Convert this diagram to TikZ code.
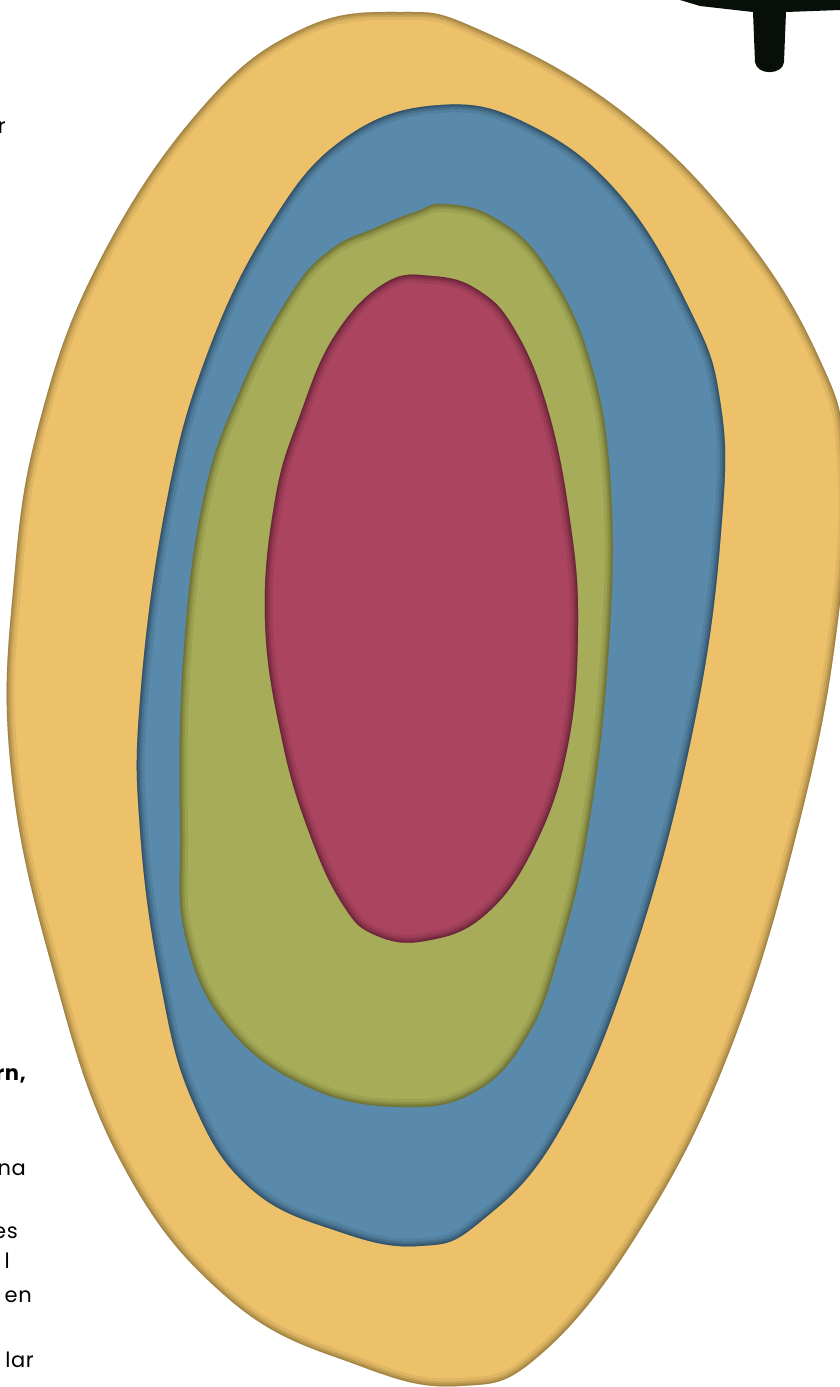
\documentclass[tikz,border=0pt]{standalone}
\usepackage{fontspec}
\setmainfont{Poppins}
\newfontfamily\txtfont[LetterSpace=3]{Poppins}
\begin{document}
\begin{tikzpicture}[x=1pt,y=-1pt]
\definecolor{yel}{HTML}{ECC16A}
\definecolor{yeld}{HTML}{7A6230}
\definecolor{blu}{HTML}{5A8AAB}
\definecolor{blud}{HTML}{1E3446}
\definecolor{grn}{HTML}{A6AC58}
\definecolor{grnd}{HTML}{4E5222}
\definecolor{red}{HTML}{AB4461}
\definecolor{redd}{HTML}{4A1426}
\definecolor{ink}{HTML}{080E08}
\tikzset{txt/.style={anchor=base east,font=\txtfont\fontsize{21}{25}\selectfont,text=black,inner sep=0pt}}
\useasboundingbox (0,0) rectangle (840,1387);
\fill[white] (0,0) rectangle (840,1387);
\def\yelp{plot[smooth cycle,tension=0.7] coordinates {(400,12) (480,30) (620,110) (740,230) (820,360) (845,460) (838,620) (800,820) (730,1050) (640,1230) (540,1355) (460,1386) (360,1366) (230,1300) (120,1160) (50,960) (10,760) (14,580) (40,420) (100,260) (200,110) (300,30)}}
\def\blup{plot[smooth cycle,tension=0.7] coordinates {(440,105) (530,125) (620,195) (690,310) (720,400) (722,520) (695,720) (635,950) (560,1130) (480,1222) (420,1246) (340,1232) (250,1188) (192,1100) (160,980) (140,830) (140,700) (165,510) (205,360) (270,225) (345,138)}}
\def\grnp{plot[smooth cycle,tension=0.7] coordinates {(445,204) (495,218) (545,265) (590,360) (611,490) (608,660) (588,830) (560,950) (528,1035) (475,1092) (400,1107) (310,1088) (230,1030) (186,940) (180,830) (183,660) (203,500) (240,390) (290,295) (330,250) (375,228) (415,212)}}
\def\redp{plot[smooth cycle,tension=0.7] coordinates {(432,276) (478,290) (515,330) (548,410) (570,520) (578,625) (568,745) (535,845) (485,915) (425,941) (375,935) (343,905) (310,835) (282,740) (265,620) (275,500) (300,415) (335,335) (385,283)}}
% black mark top right
\fill[ink] (680,0) -- (840,0) -- (840,10) -- (786,12) -- (784,62) .. controls (783,75) and (757,76) .. (755,62) -- (753,12) -- (700,6) -- cycle;
% blobs with inner shadow
\foreach \p/\c/\d in {\yelp/yel/yeld,\blup/blu/blud,\grnp/grn/grnd,\redp/red/redd}{
  \fill[\c] \p;
  \begin{scope}
    \clip \p;
    \draw[\d,line width=16pt,opacity=0.12] \p;
    \draw[\d,line width=10pt,opacity=0.18] \p;
    \draw[\d,line width=6pt,opacity=0.25] \p;
    \draw[\d,line width=2.5pt,opacity=0.3] \p;
  \end{scope}
}
% cut-off text fragments
\node[txt] (t1) at (6,133) {r};
\node[txt,font=\txtfont\fontsize{21}{25}\selectfont\bfseries] (t2) at (26,1080) {rn,};
\node[txt] (t3) at (26,1175) {na};
\node[txt] (t4) at (18,1238) {es};
\node[txt] (t5) at (10,1268) {l};
\node[txt] (t6) at (32,1302) {en};
\node[txt] (t7) at (34,1367) {lar};
\end{tikzpicture}
\end{document}
